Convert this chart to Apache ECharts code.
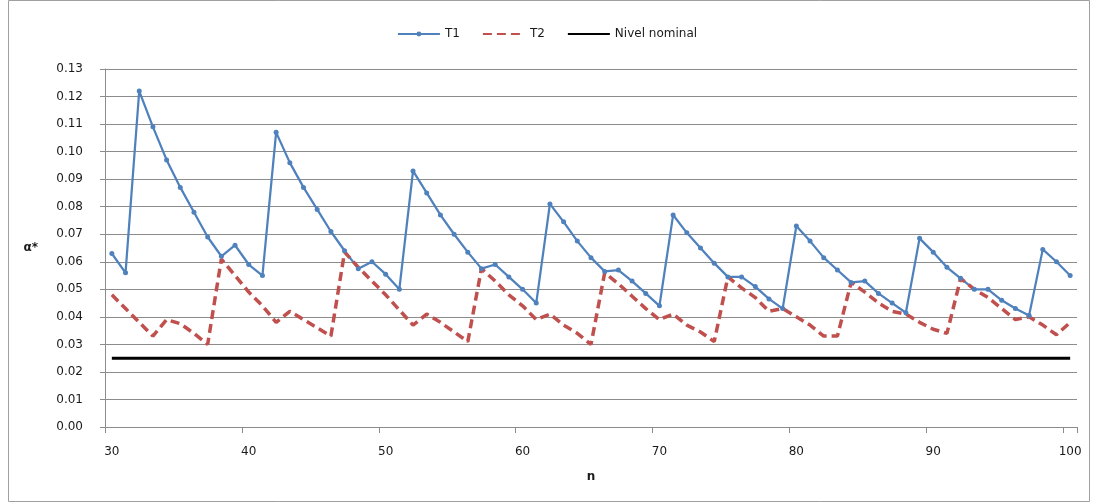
<!DOCTYPE html>
<html>
<head>
<meta charset="utf-8">
<script src="https://cdn.jsdelivr.net/npm/echarts@6/dist/echarts.min.js"></script>
<style>
  html, body { margin: 0; padding: 0; background: #fff; }
  #chart { width: 1094px; height: 504px; }
</style>
</head>
<body>
<div id="chart"></div>
<script>
// Sample sizes n
const categories = [30, 31, 32, 33, 34, 35, 36, 37, 38, 39,
  40, 41, 42, 43, 44, 45, 46, 47, 48, 49,
  50, 51, 52, 53, 54, 55, 56, 57, 58, 59,
  60, 61, 62, 63, 64, 65, 66, 67, 68, 69,
  70, 71, 72, 73, 74, 75, 76, 77, 78, 79,
  80, 81, 82, 83, 84, 85, 86, 87, 88, 89,
  90, 91, 92, 93, 94, 95, 96, 97, 98, 99, 100];

// Actual significance level of test T1
const t1 = [0.063, 0.056, 0.122, 0.109, 0.097, 0.087, 0.078, 0.069, 0.062, 0.066,
  0.059, 0.055, 0.107, 0.096, 0.087, 0.079, 0.071, 0.064, 0.0575, 0.060,
  0.0555, 0.050, 0.093, 0.085, 0.077, 0.070, 0.0635, 0.0575, 0.059, 0.0545,
  0.050, 0.045, 0.081, 0.0745, 0.0675, 0.0615, 0.0565, 0.057, 0.053, 0.0485,
  0.044, 0.077, 0.0705, 0.065, 0.0595, 0.0545, 0.0545, 0.051, 0.0465, 0.043,
  0.073, 0.0675, 0.0615, 0.057, 0.0525, 0.053, 0.0485, 0.045, 0.0415, 0.0685,
  0.0635, 0.058, 0.054, 0.050, 0.050, 0.046, 0.043, 0.0405, 0.0645, 0.060, 0.055];

// Actual significance level of test T2
const t2 = [0.048, 0.043, 0.038, 0.033, 0.039, 0.0375, 0.034, 0.030, 0.061, 0.055,
  0.049, 0.044, 0.038, 0.042, 0.039, 0.036, 0.033, 0.0635, 0.058, 0.053,
  0.048, 0.0425, 0.037, 0.041, 0.038, 0.0345, 0.031, 0.0575, 0.053, 0.048,
  0.044, 0.039, 0.041, 0.037, 0.034, 0.030, 0.056, 0.052, 0.0475, 0.043,
  0.039, 0.041, 0.037, 0.0345, 0.031, 0.0545, 0.0505, 0.047, 0.042, 0.043,
  0.040, 0.037, 0.033, 0.033, 0.0525, 0.049, 0.045, 0.042, 0.041, 0.038,
  0.0355, 0.034, 0.054, 0.050, 0.047, 0.043, 0.039, 0.040, 0.037, 0.0335, 0.038];

// Nominal level
const nominalLevel = 0.025;
const nominal = categories.map(() => nominalLevel);

const yTicks = { min: 0, max: 0.13, step: 0.01 };

const FONT = 'DejaVu Sans';
const TXT = '#1a1a1a';
const GRID = '#8c8c8c';
const BLUE = '#4f81bd';
const RED = '#c0504d';

const chart = echarts.init(document.getElementById('chart'), null, { renderer: 'canvas' });

chart.setOption({
  animation: false,
  backgroundColor: '#ffffff',
  textStyle: { fontFamily: FONT },
  graphic: [{
    type: 'rect',
    shape: { x: 8.5, y: 0.5, width: 1081, height: 501 },
    style: { fill: 'none', stroke: '#a0a0a0', lineWidth: 1 },
    silent: true
  }],
  legend: {
    top: 23,
    left: 'center',
    itemWidth: 42,
    itemHeight: 6,
    itemGap: 22,
    textStyle: { fontFamily: FONT, fontSize: 12, color: TXT },
    data: [
      { name: 'T1' },
      { name: 'T2', itemStyle: { opacity: 0 } },
      { name: 'Nivel nominal', itemStyle: { opacity: 0 } }
    ]
  },
  grid: { left: 105, right: 17, top: 69, bottom: 77, containLabel: false },
  xAxis: {
    type: 'category',
    data: categories,
    boundaryGap: true,
    name: 'n',
    nameLocation: 'middle',
    nameGap: 44,
    nameTextStyle: { fontFamily: FONT, fontSize: 12, fontWeight: 'bold', color: TXT },
    axisLine: { lineStyle: { color: GRID, width: 1 } },
    axisTick: { show: true, interval: 9, length: 6, alignWithLabel: false, lineStyle: { color: GRID } },
    axisLabel: { interval: 9, margin: 19, fontFamily: FONT, fontSize: 12, color: TXT },
    splitLine: { show: false }
  },
  yAxis: {
    type: 'value',
    min: yTicks.min,
    max: yTicks.max,
    interval: yTicks.step,
    name: 'α*',
    nameLocation: 'middle',
    nameRotate: 0,
    nameGap: 67,
    nameTextStyle: { fontFamily: FONT, fontSize: 12, fontWeight: 'bold', color: TXT },
    axisLine: { show: true, lineStyle: { color: GRID, width: 1 } },
    axisTick: { show: true, length: 5, lineStyle: { color: GRID } },
    axisLabel: {
      margin: 22,
      fontFamily: FONT, fontSize: 12, color: TXT,
      formatter: v => v.toFixed(2)
    },
    splitLine: { show: true, lineStyle: { color: GRID, width: 1 } }
  },
  series: [
    {
      name: 'T1',
      type: 'line',
      data: t1,
      symbol: 'circle',
      symbolSize: 5,
      showSymbol: true,
      color: BLUE,
      lineStyle: { color: BLUE, width: 2.25 },
      itemStyle: { color: BLUE }
    },
    {
      name: 'T2',
      type: 'line',
      data: t2,
      symbol: 'none',
      color: RED,
      lineStyle: { color: RED, width: 3.5, type: [9, 5] },
      itemStyle: { color: RED }
    },
    {
      name: 'Nivel nominal',
      type: 'line',
      data: nominal,
      symbol: 'none',
      color: '#000000',
      lineStyle: { color: '#000000', width: 3 },
      itemStyle: { color: '#000000' }
    }
  ]
});
</script>
</body>
</html>
